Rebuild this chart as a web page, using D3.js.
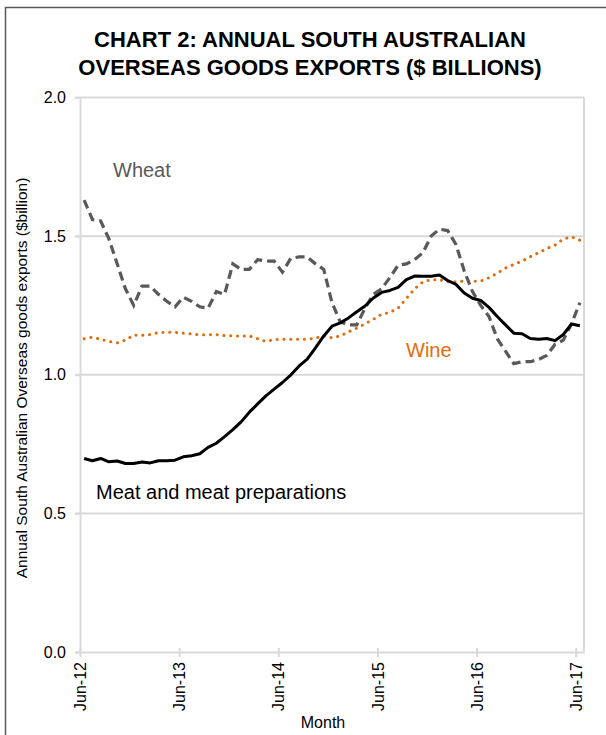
<!DOCTYPE html>
<html>
<head>
<meta charset="utf-8">
<script src="https://cdn.jsdelivr.net/npm/d3@7"></script>
<style>
  html, body { margin: 0; padding: 0; background: #fff; }
  svg { display: block; font-family: "Liberation Sans", Arial, sans-serif; }
</style>
</head>
<body>
<div id="chart"></div>
<script>
// monthly categories, Jun-12 .. Jun-17
const months = d3.timeMonth.range(new Date(2012, 5, 1), new Date(2017, 6, 1)).map(d3.timeFormat('%b-%y'));
const tickLabels = ['Jun-12', 'Jun-13', 'Jun-14', 'Jun-15', 'Jun-16', 'Jun-17'];
const yTicks = [0, 0.5, 1.0, 1.5, 2.0];

// $ billion
const wheat = [
  1.63, 1.56, 1.555, 1.49, 1.40, 1.31, 1.25, 1.32, 1.32, 1.29, 1.265, 1.245,
  1.28, 1.265, 1.245, 1.24, 1.30, 1.29, 1.40, 1.38, 1.38, 1.415, 1.41, 1.41,
  1.37, 1.42, 1.425, 1.425, 1.40, 1.38, 1.26, 1.19, 1.18, 1.18, 1.24, 1.29,
  1.31, 1.35, 1.395, 1.40, 1.415, 1.44, 1.50, 1.525, 1.52, 1.47, 1.375, 1.30,
  1.25, 1.21, 1.13, 1.085, 1.04, 1.047, 1.047, 1.055, 1.07, 1.11, 1.125, 1.185,
  1.26
];
const wine = [
  1.13, 1.135, 1.128, 1.12, 1.115, 1.125, 1.143, 1.142, 1.145, 1.152, 1.153, 1.153,
  1.15, 1.147, 1.144, 1.144, 1.145, 1.141, 1.14, 1.14, 1.14, 1.13, 1.12, 1.127,
  1.128, 1.128, 1.128, 1.128, 1.132, 1.14, 1.133, 1.14, 1.155, 1.168, 1.184, 1.20,
  1.218, 1.225, 1.24, 1.275, 1.31, 1.335, 1.343, 1.343, 1.335, 1.335, 1.338, 1.337,
  1.338, 1.35, 1.366, 1.385, 1.398, 1.41, 1.426, 1.44, 1.455, 1.468, 1.49, 1.497,
  1.485
];
const meat = [
  0.698, 0.69, 0.698, 0.686, 0.689, 0.68, 0.68, 0.685, 0.682, 0.69, 0.69, 0.692,
  0.704, 0.708, 0.715, 0.738, 0.753, 0.777, 0.802, 0.83, 0.865, 0.895, 0.924, 0.948,
  0.972, 0.999, 1.031, 1.056, 1.097, 1.14, 1.175, 1.187, 1.205, 1.227, 1.248, 1.277,
  1.297, 1.304, 1.315, 1.343, 1.356, 1.355, 1.355, 1.36, 1.34, 1.326, 1.295, 1.276,
  1.268, 1.243, 1.21, 1.18, 1.15, 1.148, 1.131, 1.128, 1.131, 1.123, 1.145, 1.183,
  1.177
];

const W = 606, H = 735;
const margin = { top: 97.5, right: 22, bottom: 83, left: 80 };
const grid = '#d9d9d9';

const svg = d3.select('#chart').append('svg')
  .attr('width', W)
  .attr('height', H);

// outer chart border
svg.append('path')
  .attr('d', `M5.5,${H} V7.5 H${W}`)
  .attr('fill', 'none')
  .attr('stroke', '#595959')
  .attr('stroke-width', 1.5);

const x = d3.scaleLinear()
  .domain([0, months.length])
  .range([margin.left, W - margin.right]);

const y = d3.scaleLinear()
  .domain([0, 2])
  .range([H - margin.bottom, margin.top]);

// horizontal gridlines
svg.append('g')
  .selectAll('line')
  .data(yTicks.filter(d => d > 0))
  .enter().append('line')
  .attr('x1', x(0) - 5).attr('x2', x.range()[1])
  .attr('y1', d => y(d)).attr('y2', d => y(d))
  .attr('stroke', grid)
  .attr('stroke-width', 2);

// right border of plot
svg.append('line')
  .attr('x1', x.range()[1]).attr('x2', x.range()[1])
  .attr('y1', y(2)).attr('y2', y(0))
  .attr('stroke', grid)
  .attr('stroke-width', 2);

// y axis
const yAxis = svg.append('g')
  .attr('transform', `translate(${x(0)},0)`)
  .call(d3.axisLeft(y).tickValues(yTicks).tickFormat(d3.format('.1f')).tickSize(5).tickPadding(9));
yAxis.select('.domain').attr('stroke', grid).attr('stroke-width', 2);
yAxis.selectAll('.tick line').attr('stroke', grid).attr('stroke-width', 2);
yAxis.selectAll('text').attr('fill', '#000').style('font-size', '16px');

// x axis
const xAxis = svg.append('g')
  .attr('transform', `translate(0,${y(0)})`)
  .call(d3.axisBottom(x)
    .tickValues(tickLabels.map(t => months.indexOf(t)))
    .tickFormat(i => months[i])
    .tickSizeInner(5).tickSizeOuter(0).tickPadding(8));
xAxis.select('.domain').attr('stroke', grid).attr('stroke-width', 2);
xAxis.selectAll('.tick line').attr('stroke', grid).attr('stroke-width', 2).attr('y1', -4);
xAxis.selectAll('text')
  .attr('fill', '#000')
  .style('font-size', '16px')
  .attr('transform', 'rotate(-90)')
  .attr('text-anchor', 'end')
  .attr('dy', '0.35em')
  .attr('x', -10)
  .attr('y', 0);

const line = d3.line()
  .x((d, i) => x(i + 0.5))
  .y(d => y(d));

svg.append('path')
  .datum(wine)
  .attr('d', line)
  .attr('fill', 'none')
  .attr('stroke', '#e36c09')
  .attr('stroke-width', 3)
  .attr('stroke-linecap', 'round')
  .attr('stroke-dasharray', '0.1,6.7');

svg.append('path')
  .datum(wheat)
  .attr('d', line)
  .attr('fill', 'none')
  .attr('stroke', '#595959')
  .attr('stroke-width', 3.2)
  .attr('stroke-dasharray', '9,5');

svg.append('path')
  .datum(meat)
  .attr('d', line)
  .attr('fill', 'none')
  .attr('stroke', '#000')
  .attr('stroke-width', 3)
  .attr('stroke-linejoin', 'round');

// series labels
svg.append('text').attr('x', 113).attr('y', 177).text('Wheat')
  .attr('fill', '#595959').style('font-size', '20px');
svg.append('text').attr('x', 406).attr('y', 357).text('Wine')
  .attr('fill', '#e36c09').style('font-size', '20px');
svg.append('text').attr('x', 96).attr('y', 499).text('Meat and meat preparations')
  .attr('fill', '#000').style('font-size', '20px');

// title
const title = svg.append('text')
  .attr('text-anchor', 'middle')
  .style('font-size', '22px')
  .style('font-weight', 'bold');
title.append('tspan').attr('x', 310).attr('y', 47).text('CHART 2: ANNUAL SOUTH AUSTRALIAN');
title.append('tspan').attr('x', 310).attr('y', 75).text('OVERSEAS GOODS EXPORTS ($ BILLIONS)');

// axis titles
svg.append('text')
  .attr('transform', `translate(27,378) rotate(-90)`)
  .attr('text-anchor', 'middle')
  .style('font-size', '15.5px')
  .text('Annual South Australian Overseas  goods exports ($billion)');

svg.append('text')
  .attr('x', 323).attr('y', 728)
  .attr('text-anchor', 'middle')
  .style('font-size', '16px')
  .text('Month');
</script>
</body>
</html>
